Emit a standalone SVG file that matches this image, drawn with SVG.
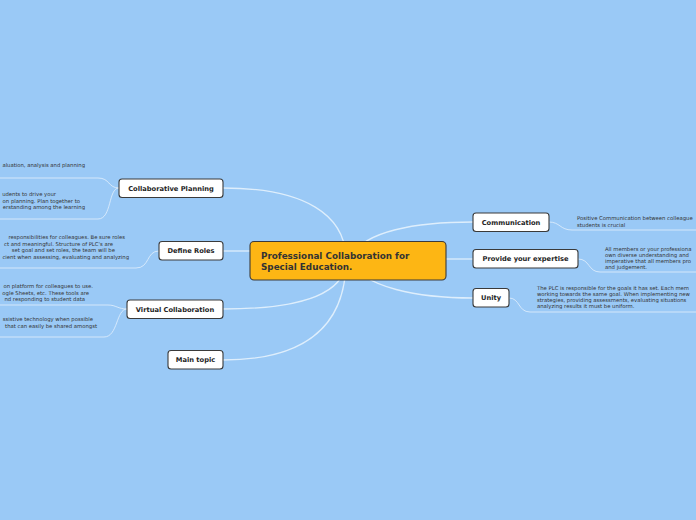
<svg xmlns="http://www.w3.org/2000/svg" width="696" height="520" viewBox="0 0 696 520">
<style>
.bg{fill:#9ac9f6}
.conn{fill:none;stroke:#eaf4fd;stroke-width:1.3;stroke-opacity:0.85}
.sub{fill:none;stroke:#e4f0fc;stroke-width:1;stroke-opacity:0.8}
.node{fill:#ffffff;stroke:#3a3a3a;stroke-width:1.1}
.root{fill:#fdb614;stroke:#3a3a3a;stroke-width:1.1}
.nt{font-family:"DejaVu Sans",Verdana,sans-serif;font-weight:bold;font-size:6.7px;fill:#1e1e1e;text-anchor:middle}
.rt{font-family:"DejaVu Sans",Verdana,sans-serif;font-weight:bold;font-size:8.8px;fill:#333333}
.ct{font-family:"DejaVu Sans",Verdana,sans-serif;font-size:5.3px;fill:#333333}
.ce{text-anchor:end}
</style>
<rect class="bg" x="0" y="0" width="696" height="520"/>
<g id="connectors">
<path class="conn" d="M223,188 C305,188 346,215 346,260"/>
<path class="conn" d="M223,251 L252,251"/>
<path class="conn" d="M223,309 C305,309 346,292 346,260"/>
<path class="conn" d="M223,360 C300,360 346,330 346,260"/>
<path class="conn" d="M350,260 C360,230 420,222 473,222"/>
<path class="conn" d="M444,259 L473,259"/>
<path class="conn" d="M350,260 C362,288 420,298 473,298"/>
<path class="sub" d="M119,188 C108,188 110,178 98,178 L0,178"/>
<path class="sub" d="M119,188 C108,188 112,219 98,219 L0,219"/>
<path class="sub" d="M159,251 C146,251 150,268 136,268 L0,268"/>
<path class="sub" d="M127,309 C118,309 116,305 108,305 L0,305"/>
<path class="sub" d="M127,309 C116,309 118,337 104,337 L0,337"/>
<path class="sub" d="M549,222 C560,222 560,230 572,230 L696,230"/>
<path class="sub" d="M578,259 C590,259 588,272 600,272 L696,272"/>
<path class="sub" d="M509,298 C520,298 518,312 530,312 L696,312"/>
</g>
<g id="root">
<rect class="root" x="250" y="241.5" width="196" height="38.5" rx="4"/>
<text class="rt" x="261" y="259">Professional Collaboration for</text>
<text class="rt" x="261" y="270">Special Education.</text>
</g>
<g id="collaborative-planning">
<rect class="node" x="119" y="179" width="104" height="18.5" rx="3"/>
<text class="nt" x="171" y="190.8">Collaborative Planning</text>
<text class="ct ce" x="85" y="167">aluation, analysis and planning</text>
<text class="ct ce" x="56" y="196">udents to drive your</text>
<text class="ct ce" x="80" y="202.5">on planning. Plan together to</text>
<text class="ct ce" x="85" y="209">erstanding among the learning</text>
</g>
<g id="define-roles">
<rect class="node" x="159" y="241.5" width="64" height="18.5" rx="3"/>
<text class="nt" x="191" y="253.3">Define Roles</text>
<text class="ct ce" x="125" y="239">responsibilities for colleagues. Be sure roles</text>
<text class="ct ce" x="113" y="245.5">ct and meaningful. Structure of PLC's are</text>
<text class="ct ce" x="115" y="252">set goal and set roles, the team will be</text>
<text class="ct ce" x="129" y="258.5">cient when assessing, evaluating and analyzing</text>
</g>
<g id="virtual-collaboration">
<rect class="node" x="127" y="300" width="96" height="18.5" rx="3"/>
<text class="nt" x="175" y="311.8">Virtual Collaboration</text>
<text class="ct ce" x="93" y="288">on platform for colleagues to use.</text>
<text class="ct ce" x="89" y="294.5">ogle Sheets, etc. These tools are</text>
<text class="ct ce" x="85" y="301">nd responding to student data</text>
<text class="ct ce" x="93" y="321">ssistive technology when possible</text>
<text class="ct ce" x="97" y="327.5">that can easily be shared amongst</text>
</g>
<g id="main-topic">
<rect class="node" x="168" y="350.5" width="55" height="18.5" rx="3"/>
<text class="nt" x="195.5" y="362.3">Main topic</text>
</g>
<g id="communication">
<rect class="node" x="473" y="213" width="76" height="18.5" rx="3"/>
<text class="nt" x="511" y="224.8">Communication</text>
<text class="ct" x="577" y="220">Positive Communication between colleague</text>
<text class="ct" x="577" y="226.5">students is crucial</text>
</g>
<g id="provide-your-expertise">
<rect class="node" x="473" y="249.5" width="105" height="18.5" rx="3"/>
<text class="nt" x="525.5" y="261.3">Provide your expertise</text>
<text class="ct" x="605" y="250.5">All members or your professiona</text>
<text class="ct" x="605" y="256.5">own diverse understanding and</text>
<text class="ct" x="605" y="262.5">imperative that all members pro</text>
<text class="ct" x="605" y="268.5">and judgement.</text>
</g>
<g id="unity">
<rect class="node" x="473" y="288.5" width="36" height="18.5" rx="3"/>
<text class="nt" x="491" y="300.3">Unity</text>
<text class="ct" x="537" y="290">The PLC is responsible for the goals it has set. Each mem</text>
<text class="ct" x="537" y="296">working towards the same goal. When implementing new</text>
<text class="ct" x="537" y="302">strategies, providing assessments, evaluating situations</text>
<text class="ct" x="537" y="308">analyzing results it must be uniform.</text>
</g>
</svg>
